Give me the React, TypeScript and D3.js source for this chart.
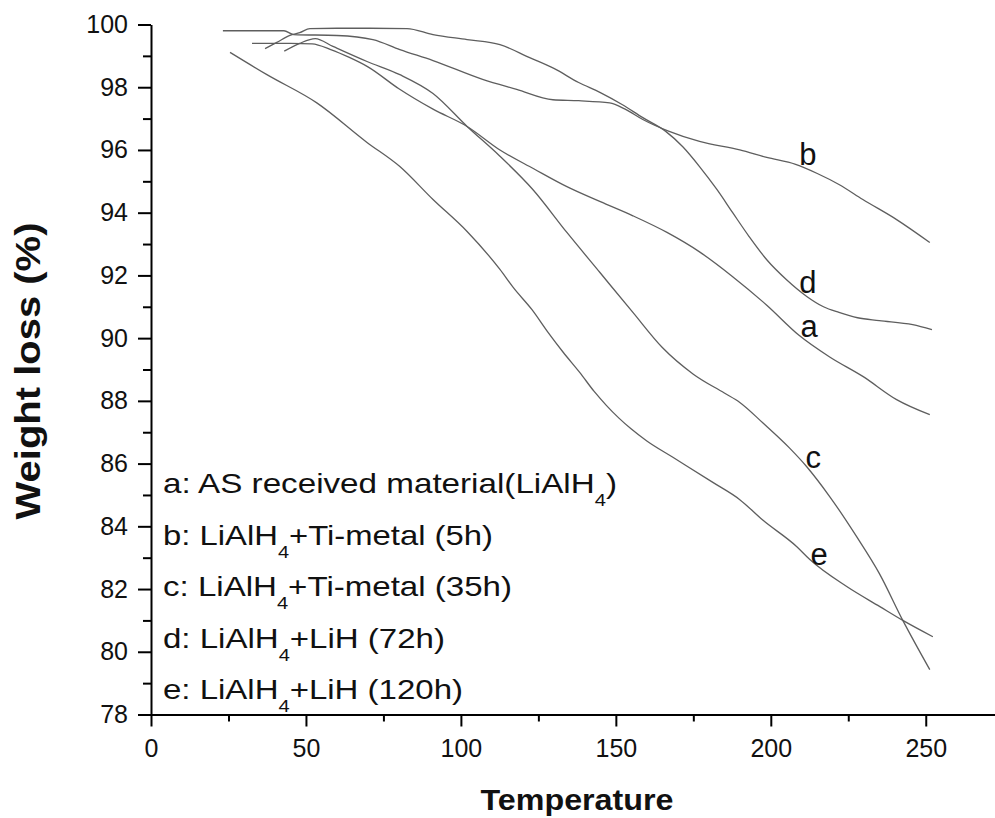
import React, { useEffect, useRef } from 'react';
import * as d3 from 'd3';

// TGA curves: temperature -> weight loss (%)
const tempA = [32.6, 45, 52, 58, 64, 70, 80, 91, 102, 112.6, 123.5, 134.2, 145, 155.5, 166.5, 177, 187.7, 198.7, 209, 219, 229.7, 240.6, 251.3];
const weightA = [99.4, 99.4, 99.38, 99.2, 98.95, 98.65, 97.95, 97.3, 96.75, 96.0, 95.4, 94.83, 94.35, 93.9, 93.37, 92.75, 91.96, 91.05, 90.1, 89.4, 88.78, 88.04, 87.56];

const tempB = [23.2, 42.9, 46, 60, 71.6, 80.3, 91, 107, 118, 129.7, 138, 148, 153, 158.7, 167, 177, 190, 198.7, 208, 215, 222, 229.7, 240.6, 251.3];
const weightB = [99.8, 99.8, 99.68, 99.65, 99.52, 99.2, 98.85, 98.25, 97.93, 97.6, 97.57, 97.5, 97.3, 96.97, 96.6, 96.27, 96.0, 95.76, 95.54, 95.25, 94.9, 94.42, 93.78, 93.05];

const tempC = [43, 48, 53, 58.7, 69.7, 80.3, 91, 102, 112.6, 123.2, 134.2, 144.8, 155.5, 165, 175, 185, 190, 197.4, 206, 211.6, 219, 227.7, 235, 242.6, 251.3];
const weightC = [99.15, 99.4, 99.55, 99.3, 98.82, 98.4, 97.8, 96.75, 95.8, 94.74, 93.37, 92.1, 90.82, 89.7, 88.85, 88.25, 87.95, 87.3, 86.5, 85.9, 84.95, 83.67, 82.5, 81.0, 79.43];

const tempD = [36.8, 40.6, 44.8, 48, 51.3, 60, 70, 82.6, 91, 102, 112.6, 122, 130, 138, 145, 152, 158.7, 166, 171.6, 177, 182.6, 187.7, 193, 198.7, 205, 211.6, 217, 222, 228, 235, 245.8, 252];
const weightD = [99.23, 99.43, 99.65, 99.74, 99.87, 99.88, 99.88, 99.87, 99.68, 99.52, 99.36, 98.95, 98.6, 98.15, 97.83, 97.45, 97.03, 96.6, 96.1, 95.47, 94.74, 94.0, 93.24, 92.5, 91.87, 91.33, 91.0, 90.82, 90.65, 90.56, 90.43, 90.27];

const tempE = [25.5, 37.4, 53.5, 69.7, 80.3, 91, 102, 112.6, 117, 123, 128, 133, 138.4, 143, 147, 151, 155, 160, 168.4, 181.3, 190, 197.4, 208.4, 212.6, 224.5, 235.2, 242.6, 252.3];
const weightE = [99.11, 98.4, 97.5, 96.24, 95.47, 94.42, 93.4, 92.19, 91.6, 90.9, 90.2, 89.55, 88.9, 88.3, 87.85, 87.45, 87.1, 86.72, 86.2, 85.4, 84.85, 84.2, 83.35, 82.94, 82.08, 81.44, 81.0, 80.48];

const curveNames = ['a', 'b', 'c', 'd', 'e'];
const curveTemps = [tempA, tempB, tempC, tempD, tempE];
const curveWeights = [weightA, weightB, weightC, weightD, weightE];

// where each curve letter is written (data coordinates)
const letterTemp = [209.6, 209.2, 211.2, 209.2, 212.8];
const letterWeight = [90.04, 95.52, 85.86, 91.44, 82.76];

// legend: text before subscript, subscript, text after
const legendHead = ['a: AS received material(LiAlH', 'b: LiAlH', 'c: LiAlH', 'd: LiAlH', 'e: LiAlH'];
const legendSub = ['4', '4', '4', '4', '4'];
const legendTail = [')', '+Ti-metal (5h)', '+Ti-metal (35h)', '+LiH (72h)', '+LiH (120h)'];

const yMajor = [78, 80, 82, 84, 86, 88, 90, 92, 94, 96, 98, 100];
const yMinor = [79, 81, 83, 85, 87, 89, 91, 93, 95, 97, 99];
const xMajor = [0, 50, 100, 150, 200, 250];
const xMinor = [25, 75, 125, 175, 225, 275];

const legendWidths = [454, 330, 349, 282, 300];
const FONT = '"Liberation Sans", Arial, Helvetica, sans-serif';

const App = () => {
  const ref = useRef(null);

  useEffect(() => {
    const svg = d3.select(ref.current);
    svg.selectAll('*').remove();

    const x = d3.scaleLinear().domain([0, 275]).range([151, 151 + 275 * 3.099]);
    const y = d3.scaleLinear().domain([78, 100]).range([714.5, 24.5]);

    // minor ticks first, then major axes on top
    svg.append('g')
      .attr('transform', 'translate(0,714.5)')
      .call(d3.axisBottom(x).tickValues(xMinor).tickSize(7).tickSizeOuter(0).tickFormat(() => ''))
      .call(g => g.select('.domain').remove());
    svg.append('g')
      .attr('transform', 'translate(151,0)')
      .call(d3.axisLeft(y).tickValues(yMinor).tickSize(8).tickSizeOuter(0).tickFormat(() => ''))
      .call(g => g.select('.domain').remove());

    const xAxis = svg.append('g')
      .attr('transform', 'translate(0,714.5)')
      .call(d3.axisBottom(x).tickValues(xMajor).tickSize(12).tickSizeOuter(0).tickPadding(13).tickFormat(d3.format('d')));
    const yAxis = svg.append('g')
      .attr('transform', 'translate(151,0)')
      .call(d3.axisLeft(y).tickValues(yMajor).tickSize(13).tickSizeOuter(0).tickPadding(10).tickFormat(d3.format('d')));

    svg.selectAll('.domain').attr('stroke-width', 2);
    svg.selectAll('.tick line').attr('stroke-width', 2);
    [xAxis, yAxis].forEach(g => g.selectAll('text')
      .attr('font-size', 25)
      .attr('font-family', FONT)
      .attr('fill', '#111'));

    // curves
    const line = d3.line().curve(d3.curveMonotoneX);
    curveNames.forEach((name, i) => {
      const pts = curveTemps[i].map((t, j) => [x(t), y(curveWeights[i][j])]);
      svg.append('path')
        .attr('fill', 'none')
        .attr('stroke', '#5e5e5e')
        .attr('stroke-width', 1.3)
        .attr('d', line(pts));

      svg.append('text')
        .attr('x', x(letterTemp[i]))
        .attr('y', y(letterWeight[i]))
        .attr('font-size', 31)
        .attr('font-family', FONT)
        .attr('fill', '#111')
        .text(name);
    });

    // legend block
    legendHead.forEach((head, i) => {
      const t = svg.append('text')
        .attr('x', 163)
        .attr('y', 493 + i * 51.5)
        .attr('font-size', 28)
        .attr('font-family', FONT)
        .attr('fill', '#111')
        .attr('textLength', legendWidths[i])
        .attr('lengthAdjust', 'spacingAndGlyphs');
      t.append('tspan').text(head);
      t.append('tspan').attr('font-size', 17).attr('dy', 13).text(legendSub[i]);
      t.append('tspan').attr('dy', -13).text(legendTail[i]);
    });

    // axis titles
    svg.append('text')
      .attr('x', 577)
      .attr('y', 810)
      .attr('text-anchor', 'middle')
      .attr('font-size', 30)
      .attr('font-weight', 'bold')
      .attr('font-family', FONT)
      .attr('fill', '#111')
      .attr('textLength', 193)
      .attr('lengthAdjust', 'spacingAndGlyphs')
      .text('Temperature');

    svg.append('text')
      .attr('transform', 'translate(40,371) rotate(-90)')
      .attr('text-anchor', 'middle')
      .attr('font-size', 35)
      .attr('font-weight', 'bold')
      .attr('font-family', FONT)
      .attr('fill', '#111')
      .attr('textLength', 297)
      .attr('lengthAdjust', 'spacingAndGlyphs')
      .text('Weight loss (%)');
  }, []);

  return (
    <svg
      ref={ref}
      width={995}
      height={818}
      style={{ position: 'absolute', left: 0, top: 0, background: '#fff' }}
    />
  );
};

export default App;
